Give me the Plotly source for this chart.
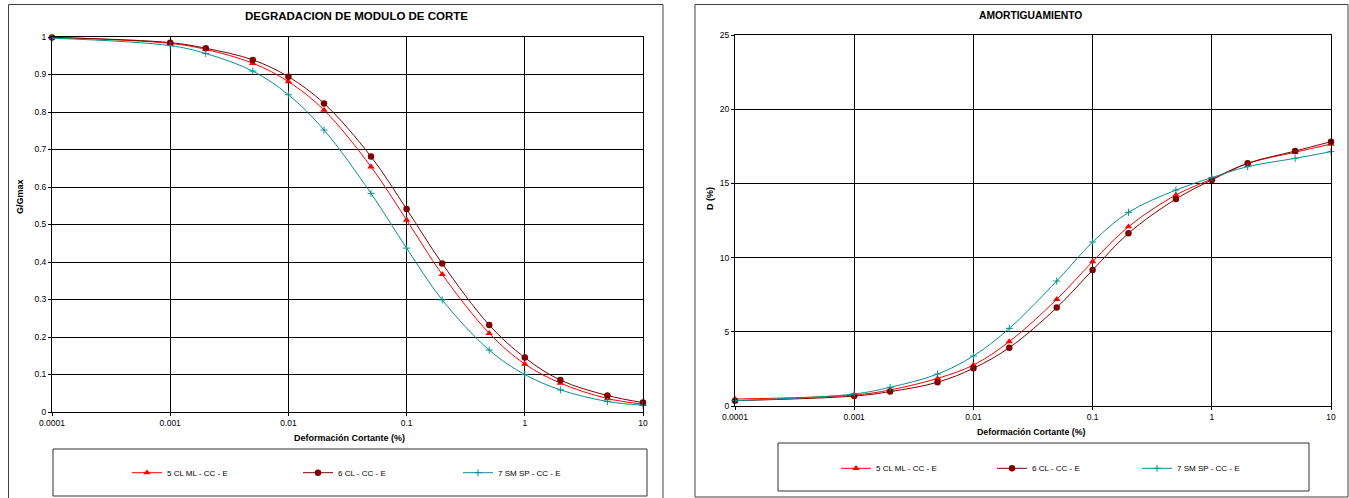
import plotly.graph_objects as go

# ---------------- data ----------------
strain = [0.0001, 0.001, 0.002, 0.005, 0.01, 0.02, 0.05, 0.1, 0.2, 0.5, 1, 2, 5, 10]

series_names = ["5 CL ML - CC - E", "6 CL - CC - E", "7 SM SP - CC - E"]

g_5clml = [0.999, 0.983, 0.967, 0.930, 0.881, 0.805, 0.654, 0.512, 0.367, 0.210, 0.128, 0.077, 0.036, 0.021]
g_6cl = [0.999, 0.985, 0.970, 0.939, 0.894, 0.823, 0.681, 0.541, 0.396, 0.232, 0.145, 0.085, 0.044, 0.025]
g_7smsp = [0.997, 0.977, 0.956, 0.909, 0.846, 0.752, 0.583, 0.437, 0.299, 0.165, 0.100, 0.059, 0.028, 0.018]

d_5clml = [0.47, 0.74, 1.08, 1.86, 2.76, 4.34, 7.19, 9.73, 12.08, 14.22, 15.30, 16.35, 17.10, 17.65]
d_6cl = [0.36, 0.67, 0.97, 1.60, 2.54, 3.93, 6.63, 9.16, 11.64, 13.95, 15.23, 16.35, 17.18, 17.81]
d_7smsp = [0.36, 0.81, 1.26, 2.15, 3.37, 5.23, 8.42, 11.05, 13.05, 14.55, 15.39, 16.13, 16.69, 17.14]

x_tickvals = [0.0001, 0.001, 0.01, 0.1, 1, 10]
x_ticktext = ["0.0001", "0.001", "0.01", "0.1", "1", "10"]

title_left = "DEGRADACION DE MODULO DE CORTE"
title_right = "AMORTIGUAMIENTO"
x_title = "Deformación Cortante (%)"
y_title_left = "G/Gmax"
y_title_right = "D (%)"

# ---------------- layout helpers ----------------
W, H = 1349, 498
OFF = 0  # body margin removed by post_script below
FONT = "Liberation Sans, Arial, sans-serif"


def px(x):
    return (x - OFF) / W


def py(y):
    return 1 - (y - OFF) / H


styles = [
    dict(color="#FF0000", symbol="triangle-up", size=6.5),
    dict(color="#800000", symbol="circle", size=6.5),
    dict(color="#0A8F8F", symbol="cross-thin", size=5),
]

fig = go.Figure()

left_series = [g_5clml, g_6cl, g_7smsp]
right_series = [d_5clml, d_6cl, d_7smsp]


def marker_for(st):
    mk = dict(symbol=st["symbol"], size=st["size"], color=st["color"])
    if st["symbol"] == "cross-thin":
        mk["line"] = dict(color=st["color"], width=1)
    return mk


for i, (name, vals) in enumerate(zip(series_names, left_series)):
    st = styles[i]
    fig.add_trace(go.Scatter(
        x=strain, y=vals, name=name, mode="lines+markers",
        line=dict(color=st["color"], width=1, shape="spline"),
        marker=marker_for(st), xaxis="x", yaxis="y", cliponaxis=False,
        showlegend=True,
        legend="legend" if i == 0 else f"legend{i + 1}",
    ))

for i, (name, vals) in enumerate(zip(series_names, right_series)):
    st = styles[i]
    fig.add_trace(go.Scatter(
        x=strain, y=vals, name=name, mode="lines+markers",
        line=dict(color=st["color"], width=1, shape="spline"),
        marker=marker_for(st), xaxis="x2", yaxis="y2", cliponaxis=False,
        showlegend=True,
        legend=f"legend{i + 4}",
    ))

axis_common = dict(
    showline=True, mirror=True, linecolor="black", linewidth=1,
    showgrid=True, gridcolor="black", gridwidth=1,
    ticks="outside", ticklen=3, tickcolor="black",
    tickfont=dict(family=FONT, size=8.5, color="black"),
    zeroline=False, automargin=False,
)

xaxis_common = dict(axis_common, type="log", range=[-4, 1],
                    tickvals=x_tickvals, ticktext=x_ticktext)

layout = dict(
    width=W, height=H,
    margin=dict(l=0, r=0, t=0, b=0, pad=0, autoexpand=False),
    showlegend=True,
    paper_bgcolor="white", plot_bgcolor="white",
    font=dict(family=FONT, color="black"),
    xaxis=dict(xaxis_common, domain=[px(52), px(643)], anchor="y"),
    yaxis=dict(axis_common, domain=[py(412), py(37)], range=[0, 1], dtick=0.1, anchor="x"),
    xaxis2=dict(xaxis_common, domain=[px(735), px(1331)], anchor="y2"),
    yaxis2=dict(axis_common, domain=[py(406), py(35)], range=[0, 25], dtick=5, anchor="x2"),
)

# legends: one item each, positioned individually
leg_pos = [(127, 472.7), (298, 472.7), (458, 472.7), (836, 468.3), (992, 468.3), (1137, 468.3)]
for i, (lx, ly) in enumerate(leg_pos):
    key = "legend" if i == 0 else f"legend{i + 1}"
    layout[key] = dict(
        x=px(lx), y=py(ly), xanchor="left", yanchor="middle",
        bgcolor="rgba(0,0,0,0)", borderwidth=0,
        font=dict(family=FONT, size=8, color="black"),
        itemwidth=30, visible=True,
    )

fig.update_layout(**layout)

# frames: outer chart borders and legend boxes
shapes = [
    dict(x0=8.5, x1=663, y0=4.5, y1=505, color="#404040"),
    dict(x0=695, x1=1348, y0=4.5, y1=497, color="#404040"),
    dict(x0=53, x1=647, y0=449, y1=496, color="#303030"),
    dict(x0=778, x1=1309, y0=443, y1=491, color="#303030"),
]
for s in shapes:
    fig.add_shape(type="rect", xref="paper", yref="paper",
                  x0=px(s["x0"]), x1=px(s["x1"]), y0=py(s["y1"]), y1=py(s["y0"]),
                  line=dict(color=s["color"], width=1), fillcolor="rgba(0,0,0,0)", layer="below")

annos = [
    dict(text=f"<b>{title_left}</b>", x=356, y=16, size=11.5, angle=0),
    dict(text=f"<b>{title_right}</b>", x=1030, y=16, size=10.3, angle=0),
    dict(text=f"<b>{x_title}</b>", x=349.5, y=438, size=9, angle=0),
    dict(text=f"<b>{x_title}</b>", x=1031, y=432, size=8.8, angle=0),
    dict(text=f"<b>{y_title_left}</b>", x=20, y=197, size=9, angle=-90),
    dict(text=f"<b>{y_title_right}</b>", x=710, y=199, size=9, angle=-90),
]
for a in annos:
    fig.add_annotation(text=a["text"], xref="paper", yref="paper",
                       x=px(a["x"]), y=py(a["y"]), xanchor="center", yanchor="middle",
                       showarrow=False, textangle=a["angle"],
                       font=dict(family=FONT, size=a["size"], color="black"))

fig.write_html(
    "out.html",
    config={"displayModeBar": False},
    post_script="document.body.style.margin='0';document.body.style.overflow='hidden';",
)
